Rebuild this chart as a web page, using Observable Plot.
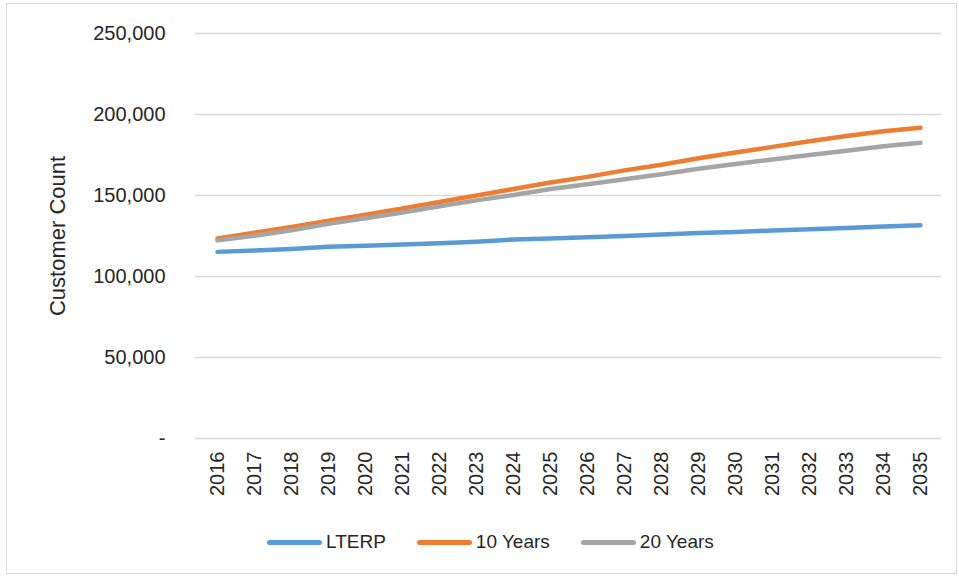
<!DOCTYPE html>
<html>
<head>
<meta charset="utf-8">
<script src="https://cdn.jsdelivr.net/npm/d3@7"></script>
<script src="https://cdn.jsdelivr.net/npm/@observablehq/plot@0.6"></script>
<style>
  html, body { margin: 0; padding: 0; background: #fff; }
  #wrap { position: relative; width: 959px; height: 577px; overflow: hidden; }
  #border { position: absolute; left: 6px; top: 3px; width: 951px; height: 571px; border: 1.5px solid #d9d9d9; box-sizing: border-box; pointer-events: none; }
  #legend { position: absolute; left: 267px; top: 531px; display: flex; align-items: center; font-family: "Liberation Sans", Arial, sans-serif; font-size: 19px; color: #262626; }
  .item { display: flex; align-items: center; margin-right: 31px; }
  .swatch { width: 55px; height: 5px; border-radius: 3px; margin-right: 4px; }
</style>
</head>
<body>
<div id="wrap">
  <div id="chart"></div>
  <div id="border"></div>
  <div id="legend"></div>
</div>
<script>
const years = [2016,2017,2018,2019,2020,2021,2022,2023,2024,2025,2026,2027,2028,2029,2030,2031,2032,2033,2034,2035];
const seriesNames = ["LTERP", "10 Years", "20 Years"];
const seriesColors = ["#5b9bd5", "#ed7d31", "#a5a5a5"];
const lterp   = [115200,116000,117000,118300,119000,119800,120500,121500,122800,123500,124300,125000,125900,126800,127500,128400,129100,130000,130900,131700];
const tenYears = [123500,127000,130600,134500,138200,142000,146000,150000,154000,158000,161500,165500,169000,173000,176500,180000,183500,186700,189600,191800];
const twentyYears = [122300,125200,128600,132500,136000,139500,143400,147000,150300,154000,157000,160000,163100,166500,169500,172200,175000,177600,180400,182500];
const yTicks = [0, 50000, 100000, 150000, 200000, 250000];

const valuesBySeries = [lterp, tenYears, twentyYears];
const data = [];
seriesNames.forEach((s, i) => {
  years.forEach((y, j) => data.push({series: s, year: y, value: valuesBySeries[i][j]}));
});

const chart = Plot.plot({
  width: 959,
  height: 577,
  marginLeft: 195,
  marginRight: 18,
  marginTop: 33,
  marginBottom: 139,
  style: { fontFamily: "'Liberation Sans', Arial, sans-serif", fontSize: "20px", color: "#262626", background: "transparent" },
  x: { type: "point", domain: years, padding: 0.5 },
  y: { domain: [0, 250000] },
  color: { domain: seriesNames, range: seriesColors },
  marks: [
    Plot.ruleY(yTicks, { stroke: "#d9d9d9", strokeWidth: 1.3 }),
    Plot.axisY({
      ticks: yTicks,
      tickSize: 0,
      tickPadding: 30,
      tickFormat: d => d === 0 ? "-" : d3.format(",")(d),
      label: null,
      fontSize: 20
    }),
    Plot.axisY({
      ticks: [],
      tickSize: 0,
      label: "Customer Count",
      labelAnchor: "center",
      labelArrow: "none",
      labelOffset: 146,
      fontSize: 22
    }),
    Plot.axisX({
      tickSize: 0,
      tickRotate: -90,
      tickPadding: 13,
      label: null,
      tickFormat: d => String(d),
      fontSize: 20
    }),
    Plot.line(data, { x: "year", y: "value", z: "series", stroke: "series", strokeWidth: 4.5, strokeLinecap: "round", strokeLinejoin: "round" })
  ]
});
document.getElementById("chart").appendChild(chart);

const legend = document.getElementById("legend");
seriesNames.forEach((s, i) => {
  const item = document.createElement("div");
  item.className = "item";
  const sw = document.createElement("div");
  sw.className = "swatch";
  sw.style.background = seriesColors[i];
  const label = document.createElement("span");
  label.textContent = s;
  item.appendChild(sw);
  item.appendChild(label);
  legend.appendChild(item);
});
</script>
</body>
</html>
